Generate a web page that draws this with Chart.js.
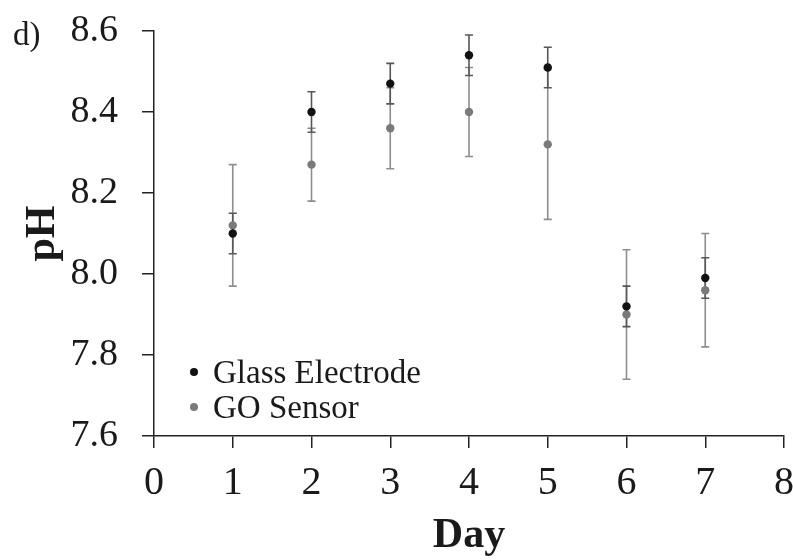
<!DOCTYPE html>
<html>
<head>
<meta charset="utf-8">
<script src="https://cdn.jsdelivr.net/npm/chart.js@4/dist/chart.umd.min.js"></script>
<style>
  html, body { margin: 0; padding: 0; background: #ffffff; }
  canvas { display: block; }
</style>
</head>
<body>
<canvas id="c" width="793" height="560"></canvas>
<script>
// pH readings per day: glass electrode vs GO sensor (mean ± std. dev.)
const days      = [1, 2, 3, 4, 5, 6, 7];
const glassPH   = [8.10, 8.40, 8.47, 8.54, 8.51, 7.92, 7.99];
const glassErr  = [0.05, 0.05, 0.05, 0.05, 0.05, 0.05, 0.05];
const goPH      = [8.12, 8.27, 8.36, 8.40, 8.32, 7.90, 7.96];
const goErr     = [0.15, 0.09, 0.10, 0.11, 0.185, 0.16, 0.14];
const xTickVals = [0, 1, 2, 3, 4, 5, 6, 7, 8];
const yTickVals = [7.6, 7.8, 8.0, 8.2, 8.4, 8.6];
const seriesNames = ['Glass Electrode', 'GO Sensor'];

const SERIF = '"Liberation Serif", "Times New Roman", serif';
const AXIS = '#222222';

const toPoints = (vals, errs) => days.map((d, i) => ({ x: d, y: vals[i], err: errs[i] }));

// error-bar colours, keyed by dataset index
const barColors = ['#575757', '#8e8e8e'];

const errorBars = {
  id: 'errorBars',
  beforeDatasetsDraw(chart) {
    const { ctx, scales: { x, y } } = chart;
    // GO bars first, glass bars over them
    for (let di = chart.data.datasets.length - 1; di >= 0; di--) {
      const ds = chart.data.datasets[di];
      ctx.save();
      ctx.strokeStyle = barColors[di];
      ctx.lineWidth = 1.6;
      ds.data.forEach(p => {
        const px = x.getPixelForValue(p.x);
        const top = y.getPixelForValue(p.y + p.err);
        const bot = y.getPixelForValue(p.y - p.err);
        ctx.beginPath();
        ctx.moveTo(px, top); ctx.lineTo(px, bot);
        ctx.moveTo(px - 4, top); ctx.lineTo(px + 4, top);
        ctx.moveTo(px - 4, bot); ctx.lineTo(px + 4, bot);
        ctx.stroke();
      });
      ctx.restore();
    }
  }
};

const legendBox = {
  id: 'legendBox',
  afterDraw(chart) {
    const { ctx, chartArea } = chart;
    ctx.save();
    ctx.font = '33px ' + SERIF;
    ctx.textAlign = 'left';
    ctx.textBaseline = 'alphabetic';
    chart.data.datasets.forEach((ds, i) => {
      const base = chartArea.bottom - 53 + i * 35;
      ctx.fillStyle = ds.backgroundColor;
      ctx.beginPath();
      ctx.arc(chartArea.left + 40, base - 11, 4, 0, Math.PI * 2);
      ctx.fill();
      ctx.fillStyle = '#1a1a1a';
      ctx.fillText(ds.label, chartArea.left + 59, base);
    });
    // panel letter
    ctx.fillText('d)', 13, 45);
    ctx.restore();
  }
};

// fixed axis box sizes; no extra overflow padding from edge labels
const fixBox = (prop, size) => s => {
  s[prop] = size;
  s.paddingTop = 0; s.paddingBottom = 0; s.paddingLeft = 0; s.paddingRight = 0;
};

new Chart(document.getElementById('c'), {
  type: 'scatter',
  data: {
    datasets: [
      {
        label: seriesNames[0],
        data: toPoints(glassPH, glassErr),
        backgroundColor: '#121212',
        borderWidth: 0,
        pointRadius: 4.2,
        pointHoverRadius: 4.2
      },
      {
        label: seriesNames[1],
        data: toPoints(goPH, goErr),
        backgroundColor: '#7a7a7a',
        borderWidth: 0,
        pointRadius: 4.2,
        pointHoverRadius: 4.2
      }
    ]
  },
  options: {
    responsive: false,
    devicePixelRatio: 1,
    animation: false,
    layout: { padding: { top: 31, right: 9, left: 0, bottom: 0 } },
    plugins: {
      legend: { display: false },
      tooltip: { enabled: false }
    },
    scales: {
      x: {
        type: 'linear',
        min: 0, max: 8,
        afterBuildTicks: s => { s.ticks = xTickVals.map(v => ({ value: v })); },
        afterFit: fixBox('height', 124),
        border: { display: true, color: AXIS, width: 1.5 },
        grid: { drawOnChartArea: false, drawTicks: true, tickLength: 12, color: AXIS, lineWidth: 1.5 },
        ticks: {
          color: '#1a1a1a',
          padding: 11,
          maxRotation: 0,
          font: { family: SERIF, size: 40 },
          callback: v => String(v)
        },
        title: {
          display: true,
          text: 'Day',
          color: '#1a1a1a',
          padding: { top: 0, bottom: 1 },
          font: { family: SERIF, size: 42, weight: 'bold', lineHeight: 1.1 }
        }
      },
      y: {
        type: 'linear',
        min: 7.6, max: 8.6,
        afterBuildTicks: s => { s.ticks = yTickVals.map(v => ({ value: v })); },
        afterFit: fixBox('width', 154),
        border: { display: true, color: AXIS, width: 1.5 },
        grid: { drawOnChartArea: false, drawTicks: true, tickLength: 12, color: AXIS, lineWidth: 1.5 },
        ticks: {
          color: '#1a1a1a',
          padding: 24,
          font: { family: SERIF, size: 38 },
          callback: v => Number(v).toFixed(1)
        },
        title: {
          display: true,
          text: 'pH',
          color: '#1a1a1a',
          padding: { top: 18, bottom: 0 },
          font: { family: SERIF, size: 42, weight: 'bold', lineHeight: 1.2 }
        }
      }
    }
  },
  plugins: [errorBars, legendBox]
});
</script>
</body>
</html>
